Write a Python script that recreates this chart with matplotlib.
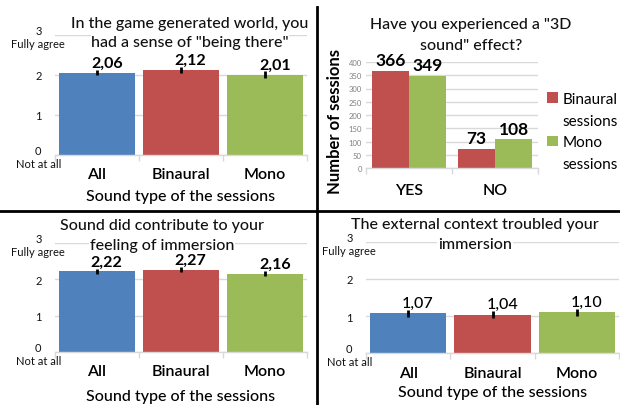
import matplotlib
matplotlib.use('Agg')
import matplotlib.pyplot as plt
from matplotlib.patches import Patch
from matplotlib.lines import Line2D

plt.rcParams['font.family'] = ['Lato', 'DejaVu Sans']

W, H = 620, 406
fig = plt.figure(figsize=(6.2, 4.06), dpi=100)

BLUE = '#4F81BD'
RED = '#C0504D'
GREEN = '#9BBB59'
GRID = '#D9D9D9'

# ---------------- data ----------------
sound_types = ['All', 'Binaural', 'Mono']
presence_vals = [2.06, 2.12, 2.01]
presence_err = [0.07, 0.08, 0.08]
contrib_vals = [2.22, 2.27, 2.16]
contrib_err = [0.07, 0.08, 0.08]
external_vals = [1.07, 1.04, 1.10]
external_err = [0.09, 0.10, 0.10]
answers = ['YES', 'NO']
binaural_counts = [366, 73]
mono_counts = [349, 108]
likert_ticks = [0, 1, 2, 3]
likert_labels = ['0\nNot at all', '1', '2', '3\nFully agree']
count_ticks = list(range(0, 401, 50))
xlabel_text = 'Sound type of the sessions'


def px_axes(x0, x1, ytop, ybot):
    return fig.add_axes([x0 / W, 1 - ybot / H, (x1 - x0) / W, (ybot - ytop) / H])


def title_lines(lines, cx, ys, size=11.5):
    for s, y in zip(lines, ys):
        fig.text(cx / W, 1 - y / H, s, ha='center', va='center', fontsize=size,
                 color='#111111', zorder=10, fontweight='medium',
                 bbox=dict(facecolor='white', edgecolor='none', pad=0.5))


def fmt(v):
    return f"{v:.2f}".replace('.', ',')


def style_common(ax):
    for s in ['top', 'right', 'left']:
        ax.spines[s].set_visible(False)
    ax.spines['bottom'].set_color(GRID)
    ax.spines['bottom'].set_linewidth(1)
    ax.grid(axis='y', color=GRID, lw=1, zorder=0)
    ax.set_axisbelow(True)


def likert_panel(box, vals, errs, tlines, tcx, tys, xlab_y, val_w='bold'):
    ax = px_axes(*box)
    x = list(range(len(sound_types)))
    ax.bar(x, vals, width=0.905, color=[BLUE, RED, GREEN], zorder=2)
    ax.errorbar(x, vals, yerr=errs, fmt='none', ecolor='black', elinewidth=2,
                capsize=0, zorder=3)
    ax.set_xlim(-0.5, 2.5)
    ax.set_ylim(0, 3)
    ax.set_yticks(likert_ticks)
    ax.set_yticklabels(likert_labels, ha='center', fontsize=8, color='#111111')
    ax.tick_params(axis='y', length=0, pad=12)
    ax.set_xticks(x)
    ax.set_xticklabels(sound_types, fontsize=11.5, fontweight='semibold')
    ax.set_xticks([-0.5, 0.5, 1.5, 2.5], minor=True)
    ax.tick_params(axis='x', which='major', length=0, pad=9)
    ax.tick_params(axis='x', which='minor', length=4, color=GRID, width=1)
    style_common(ax)
    for xi, v, e in zip(x, vals, errs):
        ax.annotate(fmt(v), (xi, v + e), xytext=(7, 0), textcoords='offset points',
                    ha='center', va='bottom', fontsize=11.5, fontweight=val_w,
                    zorder=5)
    ax.set_xlabel(xlabel_text, fontsize=11.5, fontweight='medium')
    ax.xaxis.set_label_coords(0.5, xlab_y)
    ax.xaxis.label.set_va('center')
    title_lines(tlines, tcx, tys)
    return ax


# Panel 1
likert_panel((55, 307, 36, 156), presence_vals, presence_err,
             ['In the game generated world, you', 'had a sense of "being there"'],
             190, [24, 43], -(197 - 156) / 120)

# Panel 3
likert_panel((55, 307, 244, 353), contrib_vals, contrib_err,
             ['Sound did contribute to your', 'feeling of immersion'],
             162, [226, 246], -(397 - 353) / 109)

# Panel 4
likert_panel((366, 619, 243, 354), external_vals, external_err,
             ['The external context troubled your', 'immersion'],
             475, [225, 245], -(393 - 354) / 111, val_w='medium')

# Panel 2
ax2 = px_axes(366, 538, 63, 169)
xc = list(range(len(answers)))
bw = 0.436
b1 = ax2.bar([i - bw / 2 for i in xc], binaural_counts, width=bw, color=RED, zorder=2)
b2 = ax2.bar([i + bw / 2 for i in xc], mono_counts, width=bw, color=GREEN, zorder=2)
for bars, vals in ((b1, binaural_counts), (b2, mono_counts)):
    for r, v in zip(bars, vals):
        ax2.annotate(str(v), (r.get_x() + r.get_width() / 2, v), xytext=(0, 2),
                     textcoords='offset points', ha='center', va='bottom',
                     fontsize=12.5, fontweight='bold', zorder=5)
ax2.set_xlim(-0.5, 1.5)
ax2.set_ylim(0, 400)
ax2.set_yticks(count_ticks)
ax2.set_yticklabels([str(t) for t in count_ticks], fontsize=5.5, color='#7F7F7F')
ax2.tick_params(axis='y', length=0, pad=3)
ax2.set_xticks(xc)
ax2.set_xticklabels(answers, fontsize=11.5, fontweight='semibold')
ax2.set_xticks([-0.5, 0.5, 1.5], minor=True)
ax2.tick_params(axis='x', which='major', length=0, pad=11)
ax2.tick_params(axis='x', which='minor', length=4, color=GRID, width=1)
style_common(ax2)
ax2.set_ylabel('Number of sessions', fontsize=12, fontweight='bold')
ax2.yaxis.set_label_coords((335 - 366) / 172, (169 - 122) / 106)
ax2.yaxis.label.set_va('center')
title_lines(['Have you experienced a "3D', 'sound" effect?'], 471, [25, 46])

handles = [Patch(facecolor=RED), Patch(visible=False), Patch(facecolor=GREEN), Patch(visible=False)]
labels = ['Binaural', 'sessions', 'Mono', 'sessions']
fig.legend(handles, labels, loc='upper left', bbox_to_anchor=(547 / W, 1 - 93 / H),
           frameon=False, fontsize=11, handlelength=0.7, handleheight=0.7,
           handletextpad=0.3, labelspacing=0.5, borderaxespad=0, borderpad=0)

# Divider lines
fig.add_artist(Line2D([317 / W, 317 / W], [1 - 8 / H, 0], color='black', lw=2,
                      transform=fig.transFigure))
fig.add_artist(Line2D([0, 1], [1 - 212 / H, 1 - 212 / H], color='black', lw=2,
                      transform=fig.transFigure))

fig.savefig('out.png', dpi=100)
